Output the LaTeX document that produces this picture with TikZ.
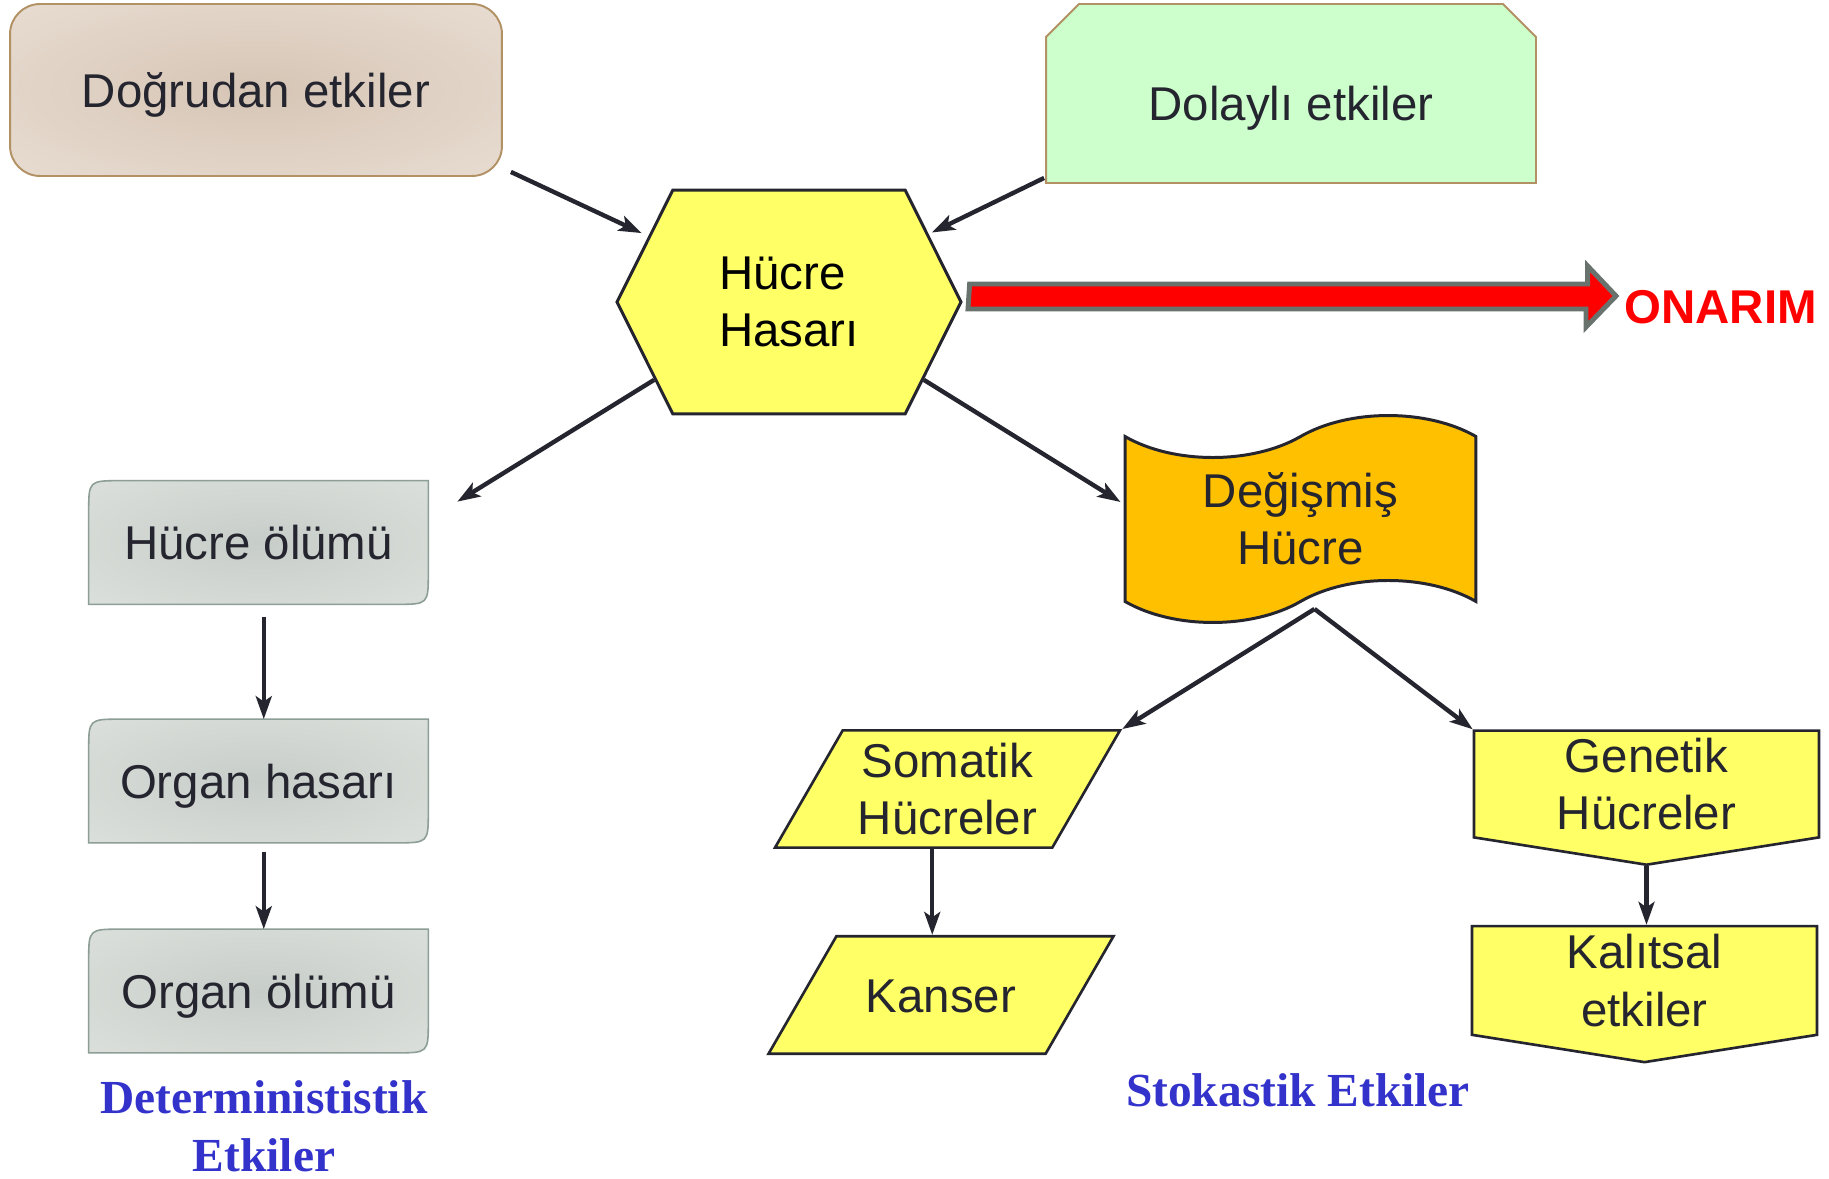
\documentclass[tikz,border=0pt]{standalone}
\usepackage{fontspec}
\setmainfont{Liberation Sans}
\newfontfamily\etkifont{Liberation Serif}
\usetikzlibrary{shapes.geometric,shapes.symbols,shapes.misc,arrows.meta,calc,backgrounds}

\definecolor{metin}{RGB}{37,37,47}
\definecolor{sari}{RGB}{255,255,102}
\definecolor{turuncu}{RGB}{255,192,0}
\definecolor{yesil}{RGB}{204,255,204}
\definecolor{kahve}{RGB}{178,145,100}
\definecolor{bejic}{RGB}{214,197,181}
\definecolor{bejdis}{RGB}{239,230,221}
\definecolor{griic}{RGB}{199,205,200}
\definecolor{gridis}{RGB}{227,231,227}
\definecolor{gricizgi}{RGB}{140,158,150}
\definecolor{okgri}{RGB}{105,115,110}
\definecolor{mavi}{RGB}{51,51,204}

\pgfdeclareradialshading{bejgolge}{\pgfpoint{0bp}{0bp}}{color(0bp)=(bejic); color(50bp)=(bejdis); color(72bp)=(bejdis)}
\pgfdeclareradialshading{grigolge}{\pgfpoint{0bp}{0bp}}{color(0bp)=(griic); color(50bp)=(gridis); color(72bp)=(gridis)}

\tikzset{
  yazi/.style={font=\fontsize{27}{32.5}\selectfont, text=metin, align=center, inner sep=0pt},
  ok/.style={draw=metin, line width=2.5pt, -{Stealth[length=13pt,width=9pt,inset=3pt]}},
  dogrubox/.style={yazi, text depth=0pt, shading=bejgolge, draw=kahve, line width=1.1pt, rounded corners=0.6cm,
    minimum width=9.84cm, minimum height=3.44cm},
  dolaybox/.style={yazi, text depth=0pt, text height=30.5pt, chamfered rectangle,
    chamfered rectangle corners={north west,north east}, chamfered rectangle xsep=0.56cm,
    fill=yesil, draw=kahve, line width=1.1pt, minimum width=9.8cm, minimum height=3.58cm},
  hasarbox/.style={yazi, text=black, align=left, signal, signal to=west and east, signal pointer angle=127,
    fill=sari, draw=metin, line width=1.7pt, minimum width=6.88cm, minimum height=4.48cm},
  degisbox/.style={yazi, tape, tape bend top=in and out, tape bend bottom=in and out, tape bend height=0.84cm,
    fill=turuncu, draw=metin, line width=1.7pt, minimum width=7.02cm, minimum height=4.14cm},
  olumbox/.style={yazi, text depth=0pt, minimum width=6.78cm, minimum height=2.46cm},
  olumcizgi/.style={shading=grigolge, draw=gricizgi, line width=0.9pt},
  parabox/.style={yazi, trapezium, trapezium left angle=60, trapezium right angle=120, trapezium stretches body=true,
    fill=sari, draw=metin, line width=1.5pt, minimum width=6.9cm},
  besgen/.style={yazi, signal, signal to=south, signal pointer angle=162,
    fill=sari, draw=metin, line width=1.5pt, minimum width=6.9cm, minimum height=2.42cm},
  onarimyazi/.style={font=\fontsize{27}{32.5}\selectfont\bfseries, text=red, inner sep=0pt},
  onarimok/.style={fill=red, draw=okgri, line width=2.8pt},
  etki/.style={font=\etkifont\bfseries\fontsize{27}{33}\selectfont, text=mavi, align=center, inner sep=0pt}
}

\begin{document}
\begin{tikzpicture}[x=0.02cm, y=-0.02cm]
\useasboundingbox (0,0) rectangle (1829,1179);

\node[dogrubox] (dogru) at (256,90) {Doğrudan etkiler};
\node[dolaybox] (dolay) at (1291,93.5) {Dolaylı etkiler};
\node[hasarbox] (hasar) at (789,302) {Hücre\\Hasarı};
\node[onarimyazi, anchor=west] (onarim) at (1624,307) {ONARIM};
\node[degisbox] (degis) at (1300.5,519) {Değişmiş\\Hücre};
\node[olumbox] (holum) at (258.5,542.5) {Hücre ölümü};
\node[olumbox] (ohasar) at (258.5,781) {Organ hasarı};
\node[olumbox] (oolum) at (258.5,991) {Organ ölümü};
\node[parabox, inner ysep=7.2pt] (somatik) at (947.5,789) {Somatik\\Hücreler};
\node[parabox, text height=43.2pt, text depth=23.7pt] (kanser) at (941,995) {Kanser};
\node[besgen] (genetik) at (1646.5,784) {Genetik\\Hücreler};
\node[besgen] (kalitsal) at (1644.5,980.5) {Kalıtsal\\etkiler};
\node[etki] (determ) at (264,1126) {Determinististik\\Etkiler};
\node[etki] (stok) at (1298,1090) {Stokastik Etkiler};

\begin{scope}[on background layer]
  \fill[white] (0,0) rectangle (1829,1179);
  \foreach \n in {holum,ohasar,oolum}
    \shadedraw[olumcizgi] ($(\n.north west)+(32,0)$) -- (\n.north east) -- ($(\n.south east)+(0,-32)$)
      .. controls (\n.south east) .. ($(\n.south east)+(-32,0)$) -- (\n.south west)
      -- ($(\n.north west)+(0,32)$) .. controls (\n.north west) .. cycle;
\end{scope}

\filldraw[onarimok] ($(hasar.east)+(7,-18)$) -- ++(618,0) -- ++(0,-18) -- ($(onarim.west)+(-8,-11)$)
  -- ++(-30,31) -- ++(0,-18) -- ++(-618,0) -- cycle;

\coordinate (dal) at ($(degis.south)+(14,6)$);

\draw[ok, shorten >=4pt] ($(dogru.south east)+(8,-5)$) -- (hasar);
\draw[ok, shorten >=2pt] ($(dolay.south west)+(-1,-6)$) -- (hasar);
\draw[ok] (hasar.210) -- ($(holum.north east)+(29,21)$);
\draw[ok] (hasar.-30) -- ($(degis.west)+(-3,-17)$);
\draw[ok] (dal) -- (somatik.top right corner);
\draw[ok] (dal) -- (genetik.north west);
\draw[ok] ([xshift=-5pt]kanser.north |- somatik.south) -- ([xshift=-5pt]kanser.north);
\draw[ok] (genetik.south) -- (genetik.south |- kalitsal.north);
\draw[ok, shorten <=7pt] ([xshift=3pt]holum.south) -- ([xshift=3pt]ohasar.north);
\draw[ok, shorten <=5pt] ([xshift=3pt]ohasar.south) -- ([xshift=3pt]oolum.north);
\end{tikzpicture}
\end{document}
